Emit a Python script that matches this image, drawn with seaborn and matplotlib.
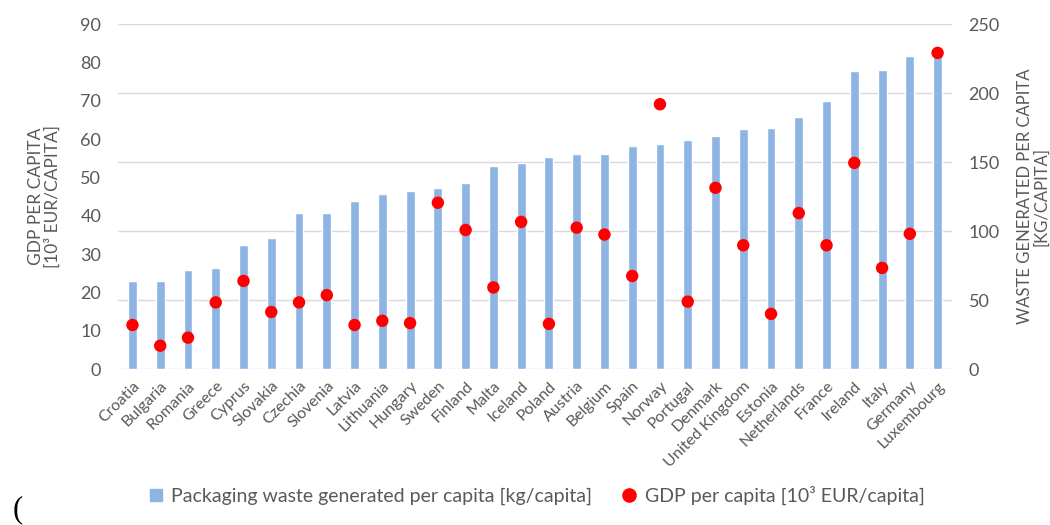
import matplotlib

matplotlib.use("Agg")
import matplotlib.pyplot as plt
import pandas as pd
import seaborn as sns
from matplotlib.lines import Line2D

countries = [
    "Croatia", "Bulgaria", "Romania", "Greece", "Cyprus", "Slovakia",
    "Czechia", "Slovenia", "Latvia", "Lithuania", "Hungary", "Sweden",
    "Finland", "Malta", "Iceland", "Poland", "Austria", "Belgium", "Spain",
    "Norway", "Portugal", "Denmark", "United Kingdom", "Estonia",
    "Netherlands", "France", "Ireland", "Italy", "Germany", "Luxembourg",
]
# packaging waste, kg/capita (right axis)
waste = [
    64, 64, 72, 73, 90, 95, 113, 113, 122, 127, 129, 131, 135, 147, 149,
    154, 156, 156, 162, 163, 166, 169, 174, 175, 183, 194, 216, 217, 227, 230,
]
# GDP per capita, 10^3 EUR/capita (left axis)
gdp = [
    11.5, 6.1, 8.2, 17.4, 23.0, 14.9, 17.4, 19.3, 11.5, 12.6, 12.0, 43.4,
    36.3, 21.3, 38.4, 11.8, 36.9, 35.1, 24.3, 69.1, 17.6, 47.3, 32.3, 14.4,
    40.7, 32.3, 53.8, 26.4, 35.3, 82.5,
]
gdp_ticks = [0, 10, 20, 30, 40, 50, 60, 70, 80, 90]
waste_ticks = [0, 50, 100, 150, 200, 250]

df = pd.DataFrame({"country": countries, "waste": waste, "gdp": gdp})

BAR = "#8EB4E3"
DOT = "#FF0000"
GREY = "#595959"

sns.set_theme(style="white")
plt.rcParams["font.family"] = ["Lato", "DejaVu Sans"]

fig = plt.figure(figsize=(10.5, 5.25), dpi=100)
ax = fig.add_axes([0.1124, 0.297, 0.7943, 0.657])

# bars on the primary axes, scale shown on the right
sns.barplot(data=df, x="country", y="waste", color=BAR, width=0.32,
            saturation=1, ax=ax, zorder=2)
ax.set_ylim(0, 250)
ax.set_yticks(waste_ticks)
ax.grid(axis="y", color="#D9D9D9", linewidth=1, zorder=0)
ax.set_axisbelow(True)
ax.set_xlim(-0.52, len(countries) - 0.48)
ax.set_xlabel("")

# dots on the twin axes, scale shown on the left
ax2 = ax.twinx()
sns.scatterplot(data=df, x="country", y="gdp", color=DOT, s=80,
                edgecolor="none", ax=ax2, zorder=3)
ax2.set_ylim(0, 90)
ax2.set_yticks(gdp_ticks)
ax2.set_xlim(-0.52, len(countries) - 0.48)
ax2.set_xlabel("")

ax.yaxis.tick_right()
ax.yaxis.set_label_position("right")
ax2.yaxis.tick_left()
ax2.yaxis.set_label_position("left")

ax.set_ylabel("WASTE GENERATED PER CAPITA\n[KG/CAPITA]", color=GREY,
              fontsize=12, labelpad=12, linespacing=1.05)
ax2.set_ylabel("GDP PER CAPITA\n[10³ EUR/CAPITA]", color=GREY,
               fontsize=12.5, labelpad=14, linespacing=1.05)

for a in (ax, ax2):
    for s in a.spines.values():
        s.set_visible(False)
    a.tick_params(axis="both", length=0, colors=GREY, labelsize=13)
    a.tick_params(axis="y", pad=12)

ax.set_xticks(range(len(countries)))
ax.set_xticklabels(countries, rotation=45, ha="right",
                   rotation_mode="anchor", fontsize=11.5, color=GREY)
ax.tick_params(axis="x", pad=7)
ax2.tick_params(axis="x", labelbottom=False)

handles = [
    Line2D([], [], marker="s", linestyle="none", color=BAR, markersize=8),
    Line2D([], [], marker="o", linestyle="none", color=DOT, markersize=9.5),
]
labels = [
    "Packaging waste generated per capita [kg/capita]",
    "GDP per capita [10³ EUR/capita]",
]
fig.legend(handles, labels, loc="center", bbox_to_anchor=(0.51, 0.057),
           ncol=2, frameon=False, fontsize=14, labelcolor=GREY,
           handletextpad=0.3, columnspacing=1.4, handlelength=1.0)

fig.text(0.012, 0.002, "(", family="Liberation Serif", fontsize=22,
         color="black", va="bottom")

fig.savefig("out.png", dpi=100)
